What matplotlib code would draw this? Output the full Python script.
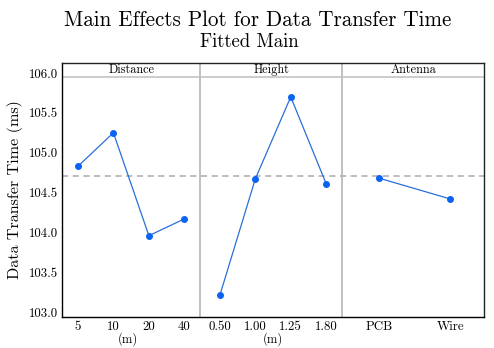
import matplotlib
matplotlib.use("Agg")
import matplotlib.pyplot as plt
import matplotlib.transforms as mtransforms

plt.rcParams['font.family'] = ['cmr10', 'DejaVu Serif']
plt.rcParams['mathtext.fontset'] = 'cm'
plt.rcParams['axes.formatter.use_mathtext'] = True

# Data
distance_labels = ['5', '10', '20', '40']
distance_means = [104.83, 105.25, 103.96, 104.17]
height_labels = ['0.50', '1.00', '1.25', '1.80']
height_means = [103.21, 104.67, 105.70, 104.61]
antenna_labels = ['PCB', 'Wire']
antenna_means = [104.68, 104.42]
grand_mean = 104.71
factor_names = ['Distance', 'Height', 'Antenna']
factor_units = ['(m)', '(m)', '']
y_ticks = [103.0, 103.5, 104.0, 104.5, 105.0, 105.5, 106.0]

fig = plt.figure(figsize=(4.94, 3.48), dpi=100)
ax = fig.add_axes([62/494, 1-317/348, 422/494, 254/348])

line_c = '#2a6fd8'
mark_c = '#0b63f2'

groups = [
    ([1 + i for i in range(len(distance_labels))], distance_labels, distance_means),
    ([5 + i for i in range(len(height_labels))], height_labels, height_means),
    ([9.5 + 2*i for i in range(len(antenna_labels))], antenna_labels, antenna_means),
]
panel_bounds = [(0.55, 4.45), (4.45, 8.45), (8.45, 12.45)]

ax.axhline(grand_mean, color='#aaaaaa', lw=1.1, dashes=(4, 3), zorder=1)

all_pos, all_lab = [], []
for pos, labs, vals in groups:
    ax.plot(pos, vals, color=line_c, lw=0.9, zorder=3)
    ax.plot(pos, vals, 'o', color=mark_c, ms=4, zorder=4)
    all_pos += pos
    all_lab += labs

for b in [4.45, 8.45]:
    ax.axvline(b, color='#b5b5b5', lw=1.2, zorder=2)

ax.set_xlim(0.55, 12.45)
ax.set_ylim(102.94, 106.125)
ax.set_xticks(all_pos)
ax.set_xticklabels(all_lab)
ax.set_yticks(y_ticks)
ax.set_yticklabels([f'{v:.1f}' for v in y_ticks])
ax.tick_params(axis='both', length=0, labelsize=9.3, pad=3.0)

for s in ['left', 'bottom']:
    ax.spines[s].set_color('black')
    ax.spines[s].set_linewidth(1.0)
for s in ['top', 'right']:
    ax.spines[s].set_color('#222222')
    ax.spines[s].set_linewidth(1.0)

# strip header
ax.axhline(105.952, color='#c4c4c4', lw=1.2, zorder=2)
trans = mtransforms.blended_transform_factory(ax.transData, ax.transAxes)
unit_x = [2.4, 6.5, 10.5]
for (x0, x1), name, unit, ux in zip(panel_bounds, factor_names, factor_units, unit_x):
    xc = (x0 + x1) / 2
    ax.text(xc, 0.972, name, transform=trans, ha='center', va='center', fontsize=8.8)
    if unit:
        ax.text(ux, -0.086, unit, transform=trans, ha='center', va='center', fontsize=9.0)

fig.text(258/494, 1-20/348, 'Main Effects Plot for Data Transfer Time', ha='center', va='center', fontsize=15.2)
fig.text(249/494, 1-42/348, 'Fitted Main', ha='center', va='center', fontsize=13.5)
fig.text(15/494, 1-190/348, 'Data Transfer Time (ms)', rotation=90, ha='center', va='center', fontsize=11.6)

fig.savefig('out.png', dpi=100)
